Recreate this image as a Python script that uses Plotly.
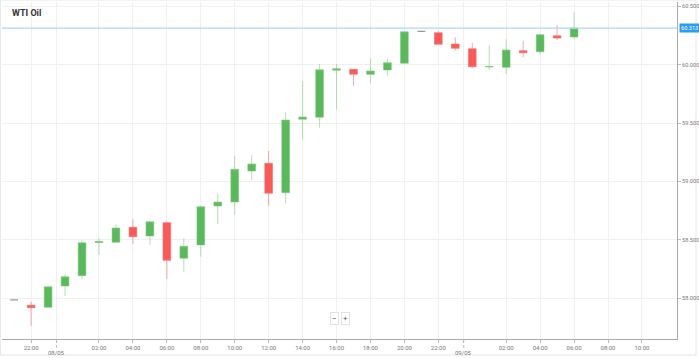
import plotly.graph_objects as go
import pandas as pd

# ---- data ----
times = list(pd.date_range("2019-05-07 21:00", periods=34, freq="h"))
opens = [57.985, 57.938, 57.921, 58.103, 58.192, 58.476, 58.478, 58.606, 58.532, 58.646,
         58.341, 58.455, 58.789, 58.823, 59.089, 59.155, 58.903, 59.532, 59.549, 59.952,
         59.960, 59.917, 59.954, 60.012, 60.286, 60.274, 60.177, 60.137, 59.980, 59.977,
         60.120, 60.111, 60.248, 60.237]
highs = [57.985, 57.969, 58.097, 58.204, 58.497, 58.512, 58.632, 58.675, 58.656, 58.658,
         58.512, 58.790, 58.898, 59.217, 59.226, 59.260, 59.592, 59.860, 60.006, 60.006,
         59.962, 60.054, 60.051, 60.282, 60.286, 60.288, 60.234, 60.188, 60.168, 60.217,
         60.205, 60.260, 60.340, 60.449]
lows = [57.985, 57.763, 57.921, 58.018, 58.161, 58.369, 58.475, 58.463, 58.455, 58.163,
        58.226, 58.354, 58.635, 58.714, 59.012, 58.791, 58.812, 59.360, 59.460, 59.617,
        59.820, 59.840, 59.903, 60.012, 60.286, 60.174, 60.120, 59.969, 59.954, 59.920,
        60.063, 60.089, 60.211, 60.217]
closes = [57.985, 57.917, 58.097, 58.183, 58.474, 58.484, 58.600, 58.526, 58.654, 58.323,
          58.443, 58.783, 58.823, 59.103, 59.149, 58.898, 59.526, 59.551, 59.957, 59.965,
          59.917, 59.946, 60.017, 60.282, 60.286, 60.174, 60.140, 59.982, 59.984, 60.126,
          60.102, 60.257, 60.228, 60.313]
current_price = 60.313

tick_times = ["2019-05-07 22:00", "2019-05-07 23:30", "2019-05-08 02:00", "2019-05-08 04:00",
              "2019-05-08 06:00", "2019-05-08 08:00", "2019-05-08 10:00", "2019-05-08 12:00",
              "2019-05-08 14:00", "2019-05-08 16:00", "2019-05-08 18:00", "2019-05-08 20:00",
              "2019-05-08 22:00", "2019-05-08 23:30", "2019-05-09 02:00", "2019-05-09 04:00",
              "2019-05-09 06:00", "2019-05-09 08:00", "2019-05-09 10:00"]
tick_labels = ["22:00", "", "02:00", "04:00", "06:00", "08:00", "10:00", "12:00",
               "14:00", "16:00", "18:00", "20:00", "22:00", "", "02:00", "04:00",
               "06:00", "08:00", "10:00"]
day_separators = ["2019-05-07 23:30", "2019-05-08 23:30"]
day_labels = ["08/05", "09/05"]
y_ticks = [58.0, 58.5, 59.0, 59.5, 60.0, 60.5]
y_labels = ["58.000", "58.500", "59.000", "59.500", "60.000", "60.500"]

# split dojis (open == close) into a neutral grey trace
main_idx = [i for i in range(len(times)) if opens[i] != closes[i]]
doji_idx = [i for i in range(len(times)) if opens[i] == closes[i]]

def pick(arr, idx):
    return [arr[i] for i in idx]

fig = go.Figure()
fig.add_trace(go.Candlestick(
    x=pick(times, main_idx), open=pick(opens, main_idx), high=pick(highs, main_idx),
    low=pick(lows, main_idx), close=pick(closes, main_idx),
    increasing=dict(fillcolor="#5cb85c", line=dict(color="rgba(120,200,120,0.55)", width=1)),
    decreasing=dict(fillcolor="#f85a5a", line=dict(color="rgba(248,110,110,0.6)", width=1)),
    whiskerwidth=0, showlegend=False, hoverinfo="skip"))
fig.add_trace(go.Candlestick(
    x=pick(times, doji_idx), open=pick(opens, doji_idx), high=pick(highs, doji_idx),
    low=pick(lows, doji_idx), close=pick(closes, doji_idx),
    increasing=dict(fillcolor="#999999", line=dict(color="#999999", width=1.2)),
    decreasing=dict(fillcolor="#999999", line=dict(color="#999999", width=1.2)),
    whiskerwidth=0, showlegend=False, hoverinfo="skip"))

W, H = 699, 358
ml, mr, mt, mb = 2, 22, 2, 19
pw, ph = W - ml - mr, H - mt - mb

fig.update_layout(
    width=W, height=H,
    margin=dict(l=ml, r=mr, t=mt, b=mb, pad=0, autoexpand=False),
    paper_bgcolor="white", plot_bgcolor="white",
    font=dict(family="Roboto, Open Sans, sans-serif", size=6, color="#777"),
    xaxis=dict(type="date", range=["2019-05-07 20:17", "2019-05-09 12:04"],
               tickvals=tick_times, ticktext=tick_labels, tickangle=0,
               showgrid=True, gridcolor="#f0f0f0", gridwidth=1,
               ticks="outside", ticklen=3, tickcolor="#bbb",
               showline=True, linecolor="#aaa", linewidth=1,
               rangeslider=dict(visible=False), zeroline=False, automargin=False,
               tickfont=dict(size=6, color="#777")),
    yaxis=dict(side="right", range=[57.649, 60.537],
               tickvals=y_ticks, ticktext=y_labels,
               showgrid=True, gridcolor="#f0f0f0", gridwidth=1,
               ticks="outside", ticklen=3, tickcolor="#bbb",
               showline=True, linecolor="#aaa", linewidth=1, zeroline=False,
               automargin=False,
               tickfont=dict(size=5.6, color="#777")),
    boxgap=0.35,
)

shapes = [
    dict(type="line", xref="paper", yref="y", x0=0, x1=1, y0=current_price, y1=current_price,
         line=dict(color="#a8d8f8", width=1.2)),
    dict(type="rect", xref="paper", yref="paper",
         x0=(0 - ml) / pw + 0.0005, x1=(696 - ml) / pw, y0=(H - mb - 355) / ph, y1=1 + mt / ph,
         line=dict(color="#e6e6e6", width=1), fillcolor="rgba(0,0,0,0)", layer="below"),
]
for s in day_separators:
    shapes.append(dict(type="line", xref="x", yref="paper", x0=s, x1=s, y0=0, y1=-9 / ph,
                       line=dict(color="#bbb", width=1, dash="dot")))
fig.update_layout(shapes=shapes)

annotations = [
    dict(text="<b>WTI Oil</b>", xref="paper", yref="paper", x=(10 - ml) / pw, y=1 - (6 - mt) / ph,
         xanchor="left", yanchor="top", showarrow=False,
         font=dict(size=9, color="#333", family="Roboto, Open Sans, sans-serif")),
    dict(text="%.3f" % current_price, xref="paper", yref="y", x=1, y=current_price,
         xanchor="left", yanchor="middle", xshift=2, showarrow=False,
         bgcolor="#2b9cf2", borderpad=1, font=dict(size=5.6, color="white")),
    dict(text="\u2212", xref="paper", yref="paper", x=(334 - ml) / pw, y=(H - mb - 318) / ph,
         xanchor="center", yanchor="middle", showarrow=False,
         bgcolor="white", bordercolor="#e2e2e2", borderwidth=1, borderpad=1,
         font=dict(size=8, color="#555")),
    dict(text="+", xref="paper", yref="paper", x=(345 - ml) / pw, y=(H - mb - 318) / ph,
         xanchor="center", yanchor="middle", showarrow=False,
         bgcolor="white", bordercolor="#e2e2e2", borderwidth=1, borderpad=1,
         font=dict(size=8, color="#555")),
]
for s, lab in zip(day_separators, day_labels):
    annotations.append(dict(text=lab, xref="x", yref="paper", x=s, y=-(352 - (H - mb)) / ph,
                            xanchor="center", yanchor="middle", showarrow=False,
                            font=dict(size=6, color="#777")))
fig.update_layout(annotations=annotations)

fig.write_html("out.html", config={"displayModeBar": False},
               post_script="document.body.style.margin='0';document.body.style.padding='0';")
